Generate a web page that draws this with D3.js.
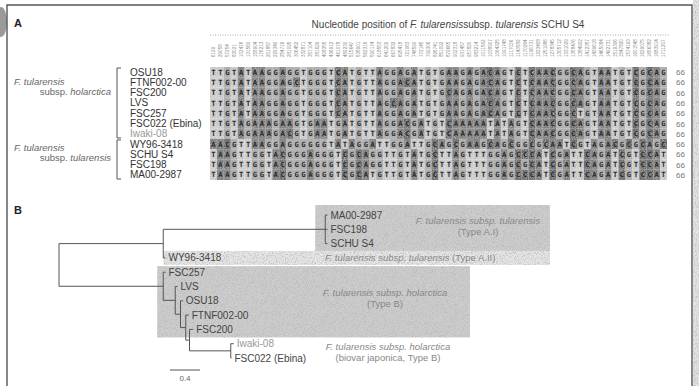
<!DOCTYPE html>
<html>
<head>
<meta charset="utf-8">
<script src="https://d3js.org/d3.v7.min.js"></script>
<style>
  body { margin: 0; background: #fff; }
  svg { display: block; font-family: "Liberation Sans", Arial, sans-serif; }
</style>
</head>
<body>
<div id="root"></div>
<script>
// ---- data: panel A (alignment)
const strains = ["OSU18", "FTNF002-00", "FSC200", "LVS", "FSC257", "FSC022 (Ebina)", "Iwaki-08",
  "WY96-3418", "SCHU S4", "FSC198", "MA00-2987"];
const sequences = [
  "TTGTATAAGGAGGTGGGTCATGTTAGGAGATGTGAAGAGACAGTCTCAACGGCAGTAATGTCGCAG",
  "TTGTATAAGGAGCTGGGTCATGTTAGGACATGTGAAGAGACAGTCTCAACGGCAGTAATGTCGCAG",
  "TTGTATAAGGAGGTGGGTCATGTTAGGAGATGTGCAGAGACAGTCTCAACGGCAGTAATGTCGCAG",
  "TTGTATAAGGAGGTGGGTCATGTTAGCAGATGTGAAGAGACAGTCTCAACGGCAGTAATGTCGCAG",
  "TTGTATAAGGAGGTGGGTCATGTTAGGAGATGTGAAGAGACAGTCTCAACGGCTGTAATGTCGCAG",
  "TTGTAGAAAGAAGTGAATGATGTTAGGACGATGTCAAAAATATAGTCAACGGCAGTAATGTCGCAG",
  "TTGTAGAAAGACGTGAATGATGTTAGGACGATGTCAAAAATATAGTCAACGGCAGTAATGTCGCAG",
  "AACGTTAAGGAGGGGGGTATAGGATTGGATTGCAGCGAAGCAGCGGCGCAATCGTAGACGCGCAGC",
  "TAAGTTGGTACGGGAGGGTCGCAGGTTGTATGCTTAGTTTGGAGCCCATCGATTCAGATCGTCCAT",
  "TAAGTTGGTACGGGAGGGTCGCAGGTTGTATGCTTAGTTTGGAGCGCATCGATTCAGATCGTCCAT",
  "TAAGTTGGTACGGGAGGGTCGCATGTTGTATGCTTAGTTTGGAGCCCATCGATTCAGATCGTCCAT"
];
const rowCounts = [66, 66, 66, 66, 66, 66, 66, 66, 66, 66, 66];
const positions = [6199, 29058, 57254, 83021, 102476, 131560, 158904, 176213, 201887, 229340,
  254716, 281095, 306452, 332871, 357104, 381629, 408355, 436912, 461078, 489230,
  515647, 538901, 562316, 590174, 618553, 641209, 667832, 695418, 721063, 748590,
  772145, 799306, 826741, 851092, 879665, 902318, 931457, 957820, 983214, 1011562,
  1038907, 1064325, 1091748, 1117036, 1143589, 1170264, 1196731, 1223408, 1251986, 1278345,
  1305712, 1331029, 1358476, 1384902, 1412357, 1439618, 1465084, 1492731, 1519306, 1547820,
  1574193, 1601548, 1629075, 1656382, 1683914, 1711207];
const groupNames = [["F. tularensis", "subsp. holarctica"], ["F. tularensis", "subsp. tularensis"]];
const groupFirst = ["OSU18", "WY96-3418"];
const groupLast = ["Iwaki-08", "MA00-2987"];
const groupLabelRow = ["FTNF002-00", "WY96-3418"];

// ---- data: panel B (tree)
const treeNodes = [
  { id: "root", parent: "", len: 0 },
  { id: "T", parent: "root", len: 1.39 },
  { id: "AI", parent: "T", len: 2.16 },
  { id: "MA00-2987", parent: "AI", len: 0.03 },
  { id: "FSC198", parent: "AI", len: 0.03 },
  { id: "SCHU S4", parent: "AI", len: 0.03 },
  { id: "WY96-3418", parent: "T", len: 0.03 },
  { id: "H", parent: "root", len: 1.39 },
  { id: "FSC257", parent: "H", len: 0.03 },
  { id: "H2", parent: "H", len: 0.16 },
  { id: "LVS", parent: "H2", len: 0.03 },
  { id: "H3", parent: "H2", len: 0.07 },
  { id: "OSU18", parent: "H3", len: 0.03 },
  { id: "H4", parent: "H3", len: 0.07 },
  { id: "FTNF002-00", parent: "H4", len: 0.04 },
  { id: "H5", parent: "H4", len: 0.05 },
  { id: "FSC200", parent: "H5", len: 0.05 },
  { id: "J", parent: "H5", len: 0.55 },
  { id: "Iwaki-08", parent: "J", len: 0.04 },
  { id: "FSC022 (Ebina)", parent: "J", len: 0.01 }
];
const cladeIds = ["AI", "WY96-3418", "H", "J"];
const cladeItalic = ["F. tularensis subsp. tularensis", "F. tularensis subsp. tularensis", "F. tularensis subsp. holarctica", "F. tularensis subsp. holarctica"];
const cladeType = ["(Type A.I)", " (Type A.II)", "(Type B)", "(biovar japonica, Type B)"];
const scaleBarValue = 0.4;

// ---- svg
const width = 699, height = 386;
const svg = d3.select("#root").append("svg")
  .attr("width", width).attr("height", height)
  .attr("viewBox", `0 0 ${width} ${height}`);

// grain filter for the scanned grey boxes
const defs = svg.append("defs");
const grain = defs.append("filter").attr("id", "grain").attr("x", 0).attr("y", 0).attr("width", 1).attr("height", 1);
grain.append("feTurbulence").attr("type", "fractalNoise").attr("baseFrequency", 1.1).attr("numOctaves", 2).attr("seed", 3).attr("result", "noise");
grain.append("feColorMatrix").attr("in", "noise").attr("type", "matrix")
  .attr("values", "0 0 0 0 0.45  0 0 0 0 0.45  0 0 0 0 0.45  2.2 0 0 0 -0.95").attr("result", "dots");
grain.append("feComposite").attr("in", "dots").attr("in2", "SourceGraphic").attr("operator", "in").attr("result", "dotsIn");
const merge = grain.append("feMerge");
merge.append("feMergeNode").attr("in", "SourceGraphic");
merge.append("feMergeNode").attr("in", "dotsIn");

// frame + scan edge
svg.append("rect").attr("x", 693).attr("y", 0).attr("width", 6).attr("height", height).attr("fill", "#e4e4e4").attr("filter", "url(#grain)");
svg.append("ellipse").attr("cx", 1).attr("cy", 22).attr("rx", 6).attr("ry", 15).attr("fill", "#9a9a9a");
svg.append("path")
  .attr("d", `M7,${height} V5 H692 V${height}`)
  .attr("fill", "none").attr("stroke", "#555").attr("stroke-width", 1.4);

// panel letters
svg.append("text").text("A").attr("x", 14).attr("y", 27).attr("font-size", 11).attr("font-weight", "bold").attr("fill", "#222");
svg.append("text").text("B").attr("x", 14).attr("y", 214).attr("font-size", 11).attr("font-weight", "bold").attr("fill", "#222");

// ---- panel A
const xCol = d3.scaleBand().domain(d3.range(positions.length)).range([210, 667]);
const yRow = d3.scaleBand().domain(strains).range([67, 180]);

const title = svg.append("text").attr("x", 448).attr("y", 28).attr("text-anchor", "middle")
  .attr("font-size", 10).attr("fill", "#444");
title.append("tspan").text("Nucleotide position of ");
title.append("tspan").text("F. tularensis").attr("font-style", "italic");
title.append("tspan").text("subsp. ");
title.append("tspan").text("tularensis").attr("font-style", "italic");
title.append("tspan").text(" SCHU S4");

svg.append("line").attr("x1", 210).attr("x2", 670).attr("y1", 35).attr("y2", 35)
  .attr("stroke", "#aaa").attr("stroke-dasharray", "1,1.5");

svg.append("g").selectAll("text").data(positions).join("text")
  .attr("transform", (d, i) => `translate(${xCol(i) + xCol.bandwidth() / 2 + 1.5},57)rotate(-90)`)
  .attr("font-size", 4.6).attr("fill", "#888")
  .text(d => d);

const shade = { A: "#7f7f7f", C: "#6a6a6a", G: "#b0b0b0", T: "#d4d4d4" };
const cells = sequences.flatMap((s, r) => s.split("").map((b, c) => ({ b, c, strain: strains[r] })));
const cellG = svg.append("g");
cellG.append("g").attr("filter", "url(#grain)").selectAll("rect").data(cells).join("rect")
  .attr("x", d => xCol(d.c)).attr("y", d => yRow(d.strain))
  .attr("width", xCol.bandwidth()).attr("height", yRow.bandwidth())
  .attr("fill", d => shade[d.b]);
cellG.selectAll("text").data(cells).join("text")
  .attr("x", d => xCol(d.c) + xCol.bandwidth() / 2)
  .attr("y", d => yRow(d.strain) + yRow.bandwidth() / 2 + 2.6)
  .attr("text-anchor", "middle").attr("font-family", "DejaVu Sans Mono")
  .attr("font-weight", "bold").attr("font-size", 7.2).attr("fill", "#2b2b2b")
  .text(d => d.b);

svg.append("g").selectAll("text").data(rowCounts).join("text")
  .attr("x", 676).attr("y", (d, i) => yRow(strains[i]) + yRow.bandwidth() / 2 + 3)
  .attr("font-size", 8).attr("fill", "#777").text(d => d);

svg.append("g").selectAll("text").data(strains).join("text")
  .attr("x", 130).attr("y", d => yRow(d) + yRow.bandwidth() / 2 + 3.5)
  .attr("font-size", 10).attr("fill", d => d === "Iwaki-08" ? "#999" : "#333")
  .text(d => d);

// group brackets
groupNames.forEach((names, i) => {
  const y0 = yRow(groupFirst[i]) + 1, y1 = yRow(groupLast[i]) + yRow.bandwidth() - 1;
  svg.append("path").attr("d", `M121,${y0} H117 V${y1} H121`)
    .attr("fill", "none").attr("stroke", "#555").attr("stroke-width", 1);
  const yl = yRow(groupLabelRow[i]) + yRow.bandwidth() / 2 + 3 + i * 4;
  const t = svg.append("text").attr("font-size", 9.5).attr("fill", "#666");
  t.append("tspan").attr("x", 14).attr("y", yl).attr("font-style", "italic").text(names[0]);
  const l2 = t.append("tspan").attr("x", 111).attr("y", yl + 10).attr("text-anchor", "end");
  l2.append("tspan").text(names[1].split(" ")[0] + " ");
  l2.append("tspan").attr("font-style", "italic").text(names[1].split(" ")[1]);
});

// ---- panel B
const root = d3.stratify().id(d => d.id).parentId(d => d.parent || null)(treeNodes);
root.eachBefore(d => { d.dist = (d.parent ? d.parent.dist : 0) + d.data.len; });
const xTree = d3.scaleLinear().domain([0, 1]).range([59, 134]);
const leafNames = root.leaves().map(d => d.id);
const yLeaf = d3.scalePoint().domain(leafNames).range([215, 358]);
root.eachAfter(d => {
  d.x = xTree(d.dist);
  d.y = d.children ? (d.children[0].y + d.children[d.children.length - 1].y) / 2 : yLeaf(d.id);
});
const byId = new Map(root.descendants().map(d => [d.id, d]));

// clade shading boxes
const boxes = svg.append("g").attr("filter", "url(#grain)");
const ai = byId.get("AI"), hol = byId.get("H"), wy = byId.get("WY96-3418"), jp = byId.get("J");
const aiLeaves = ai.leaves(), hLeaves = hol.leaves().filter(d => d.parent.id !== "J");
boxes.append("rect").attr("x", ai.x - 10).attr("y", aiLeaves[0].y - 10)
  .attr("width", 550 - (ai.x - 10)).attr("height", aiLeaves[aiLeaves.length - 1].y - aiLeaves[0].y + 20)
  .attr("fill", "#cdcdcd");
boxes.append("rect").attr("x", wy.x - 2).attr("y", wy.y - 7)
  .attr("width", 550 - (wy.x - 2)).attr("height", 14).attr("fill", "#e6e6e6");
boxes.append("rect").attr("x", hol.x - 6).attr("y", hLeaves[0].y - 6)
  .attr("width", 470 - (hol.x - 6)).attr("height", hLeaves[hLeaves.length - 1].y - hLeaves[0].y + 14)
  .attr("fill", "#cdcdcd");

// branches
const links = svg.append("g").attr("stroke", "#555").attr("stroke-width", 1).attr("fill", "none");
root.descendants().forEach(d => {
  if (d.parent) links.append("path").attr("d", `M${d.parent.x},${d.y} H${d.x}`);
  if (d.children) links.append("path").attr("d", `M${d.x},${d.children[0].y} V${d.children[d.children.length - 1].y}`);
});

svg.append("g").selectAll("text").data(root.leaves()).join("text")
  .attr("x", d => d.x + 3).attr("y", d => d.y + 3.5)
  .attr("font-size", 10).attr("fill", d => d.id === "Iwaki-08" ? "#999" : "#444")
  .text(d => d.id);

// clade annotations
const cladePos = [
  { x: 478, y: ai.y - 5, anchor: "middle", two: true },
  { x: 325, y: wy.y + 3.5, anchor: "start", two: false },
  { x: 385, y: hol.y + 10, anchor: "middle", two: true },
  { x: 388, y: jp.y - 1, anchor: "middle", two: true }
];
cladeIds.forEach((id, i) => {
  const p = cladePos[i];
  const t = svg.append("text").attr("text-anchor", p.anchor).attr("font-size", 9.5).attr("fill", "#888");
  const l1 = t.append("tspan").attr("x", p.x).attr("y", p.y);
  l1.append("tspan").attr("font-style", "italic").text(cladeItalic[i]);
  if (p.two) t.append("tspan").attr("x", p.x).attr("y", p.y + 11).text(cladeType[i]);
  else l1.append("tspan").text(cladeType[i]);
});

// scale bar
const sbLen = xTree(scaleBarValue) - xTree(0);
svg.append("line").attr("x1", 170).attr("x2", 170 + sbLen).attr("y1", 370).attr("y2", 370)
  .attr("stroke", "#555").attr("stroke-width", 1);
svg.append("text").attr("x", 170 + sbLen / 2).attr("y", 381).attr("text-anchor", "middle")
  .attr("font-size", 8).attr("fill", "#666").text(scaleBarValue);
</script>
</body>
</html>
